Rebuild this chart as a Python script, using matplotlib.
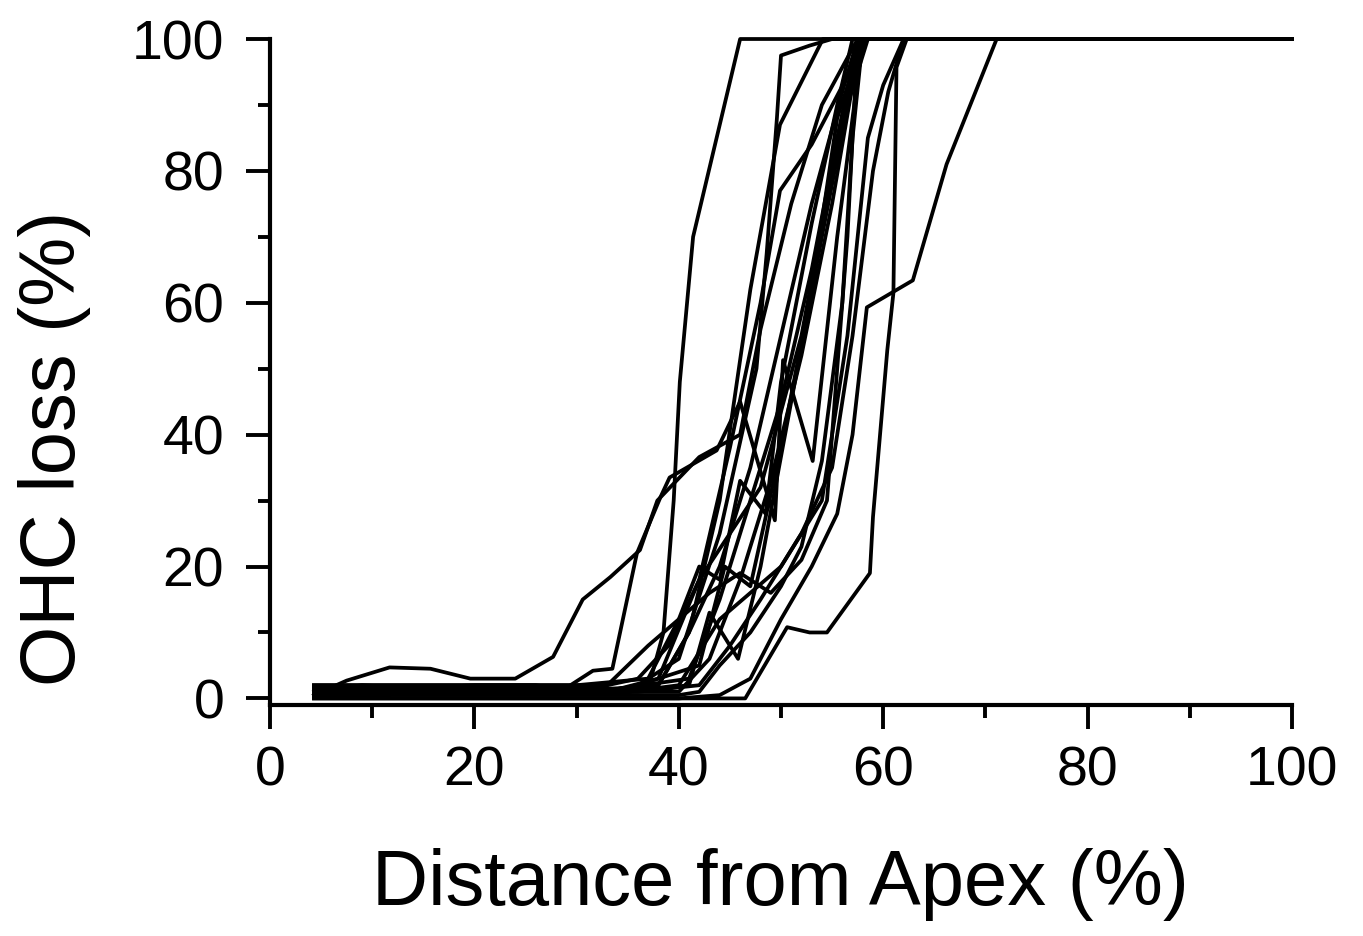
import matplotlib.pyplot as plt
from matplotlib.ticker import MultipleLocator

plt.rcParams['font.family'] = ['Liberation Sans', 'DejaVu Sans']

# Distance from apex (%) and OHC loss (%) per cochlea
ear01_x = [4.3, 10, 20, 30, 37, 38.5, 39.5, 40.1, 41.4, 46, 100]
ear01_y = [1.5, 1.5, 1, 1, 1.5, 10, 30, 48, 70, 100, 100]

ear02_x = [4.3, 7.5, 11.7, 15.7, 19.6, 24, 27.7, 30.6, 33.3, 36.2, 37.9, 42, 46, 48, 51, 54, 57.5, 100]
ear02_y = [0.5, 2.7, 4.7, 4.5, 3, 3, 6.3, 15, 18.4, 22.5, 30, 36.6, 40, 56, 75, 90, 100, 100]

ear03_x = [4.3, 20, 30, 35, 40, 44, 47.6, 48.6, 49.6, 50, 52.8, 55, 100]
ear03_y = [1, 1, 1.5, 1, 6, 25, 50, 67.5, 88, 97.5, 99, 100, 100]

ear04_x = [4.3, 25, 33, 36, 39, 42, 45, 48, 49.9, 53, 58.4, 100]
ear04_y = [2, 2, 2, 3, 8, 18, 38, 60, 77, 84, 100, 100]

ear05_x = [4.3, 28, 35, 38, 41, 44, 47, 49.9, 54.1, 100]
ear05_y = [1, 1, 1, 2, 10, 30, 62, 87, 100, 100]

ear06_x = [4.3, 20, 28.4, 31.6, 33.5, 35.9, 38.2, 39.1, 43.7, 46, 49.4, 50.2, 53.1, 55.5, 58, 100]
ear06_y = [1, 1, 1, 4.2, 4.5, 22, 30.5, 33.5, 37.6, 45, 27, 51.3, 36, 70, 100, 100]

ear07_x = [4.3, 25, 40, 44, 47, 50, 53, 55.5, 57, 58.4, 62.9, 66.2, 71.1, 100]
ear07_y = [0, 0, 0, 0.5, 3, 12, 20, 28, 40, 59.3, 63.4, 81, 100, 100]

ear08_x = [4.3, 30, 42, 46.5, 50.6, 52.8, 54.5, 58.7, 59, 60.4, 61, 61.3, 62.3, 100]
ear08_y = [0, 0, 0, 0, 10.8, 10, 10, 19, 27.5, 52.8, 61.5, 95.7, 100, 100]

ear09_x = [4.3, 30, 38, 41, 44, 47, 50, 53, 56, 57.5, 100]
ear09_y = [1, 1, 2, 10, 20, 35, 55, 75, 92, 100, 100]

ear10_x = [4.3, 30, 40, 43, 46, 49, 52, 55, 57, 58, 100]
ear10_y = [1, 1, 1, 6, 18, 33, 52, 75, 93, 100, 100]

ear11_x = [4.3, 32, 41, 44, 47, 50, 53, 55.5, 57.5, 100]
ear11_y = [0.5, 1, 3, 15, 30, 45, 65, 85, 100, 100]

ear12_x = [4.3, 35, 42, 44.5, 47, 50, 53, 55.5, 58, 100]
ear12_y = [1.5, 1.5, 5, 20, 17, 38, 62, 88, 100, 100]

ear13_x = [4.3, 33, 38, 42, 45, 48, 52, 55, 57.8, 100]
ear13_y = [1, 1, 3, 18, 25, 32, 55, 80, 100, 100]

ear14_x = [4.3, 36, 42, 45, 48, 52, 55, 57, 59, 60.5, 62, 100]
ear14_y = [1, 1, 2, 8, 15, 25, 35, 55, 80, 92, 100, 100]

ear15_x = [4.3, 35, 40, 44, 50, 54, 56.5, 58.5, 60, 62, 100]
ear15_y = [1, 1, 2, 12, 20, 30, 55, 85, 93, 100, 100]

ear16_x = [4.3, 35, 41, 43, 45.8, 48, 51, 54, 56.5, 58.5, 100]
ear16_y = [1, 1, 2, 13, 6, 20, 45, 70, 90, 100, 100]

ear17_x = [4.3, 30, 37, 40, 42, 44, 46, 48.5, 50, 53, 55.5, 57, 100]
ear17_y = [2, 2, 3, 12, 20, 18, 33, 28, 48, 72, 90, 100, 100]

ear18_x = [4.3, 9, 14, 20, 26, 30, 33, 37, 40, 43, 46, 49, 52, 54.5, 56.5, 57.5, 100]
ear18_y = [1, 2, 1.5, 2, 2, 1, 2, 8, 12, 16, 19, 16, 21, 30, 70, 100, 100]

ear19_x = [4.3, 30, 40, 42, 44, 47, 50, 52, 54, 56, 57, 58, 100]
ear19_y = [0.5, 0.5, 0.5, 1, 5, 10, 17, 23, 36, 60, 85, 100, 100]

curves = [
    (ear01_x, ear01_y), (ear02_x, ear02_y), (ear03_x, ear03_y), (ear04_x, ear04_y),
    (ear05_x, ear05_y), (ear06_x, ear06_y), (ear07_x, ear07_y), (ear08_x, ear08_y),
    (ear09_x, ear09_y), (ear10_x, ear10_y), (ear11_x, ear11_y), (ear12_x, ear12_y),
    (ear13_x, ear13_y), (ear14_x, ear14_y), (ear15_x, ear15_y), (ear16_x, ear16_y),
    (ear17_x, ear17_y), (ear18_x, ear18_y), (ear19_x, ear19_y),
]

fig = plt.figure(figsize=(13.63, 9.36), dpi=100)
ax = fig.add_axes([270 / 1363, 1 - 705 / 936, 1022 / 1363, 666 / 936])

for xs, ys in curves:
    ax.plot(xs, ys, color='black', lw=2.7, clip_on=False)

ax.set_xlim(0, 100)
ax.set_ylim(-1, 100)

for side in ['top', 'right']:
    ax.spines[side].set_visible(False)
for side in ['left', 'bottom']:
    ax.spines[side].set_linewidth(3)

ax.xaxis.set_major_locator(MultipleLocator(20))
ax.xaxis.set_minor_locator(MultipleLocator(10))
ax.yaxis.set_major_locator(MultipleLocator(20))
ax.yaxis.set_minor_locator(MultipleLocator(10))
ax.tick_params(which='major', direction='out', length=17, width=2.8, labelsize=40)
ax.tick_params(axis='x', which='major', pad=12)
ax.tick_params(axis='y', which='major', pad=16)
ax.tick_params(which='minor', direction='out', length=9, width=2.8)

fig.text(780 / 1363, 1 - 905 / 936, 'Distance from Apex (%)', fontsize=56,
         ha='center', va='baseline')
fig.text(75 / 1363, 1 - 448 / 936, 'OHC loss (%)', fontsize=56, rotation=90,
         rotation_mode='anchor', ha='center', va='baseline')

fig.savefig('out.png', dpi=100)
